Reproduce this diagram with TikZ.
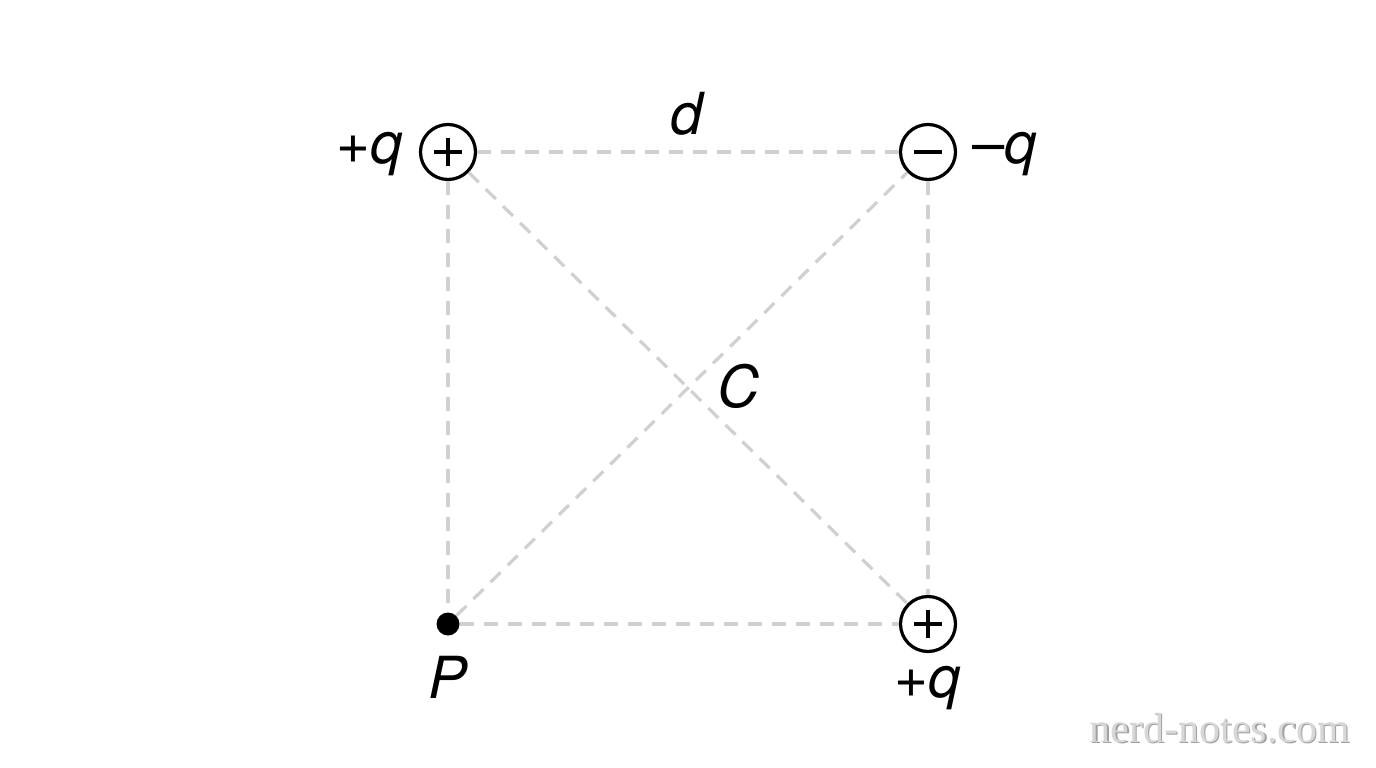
\documentclass[tikz,border=0pt]{standalone}
\usepackage{fontspec}
\setmainfont{TeX Gyre Heros}
\newfontfamily\wmfont{Liberation Serif}
\begin{document}
\begin{tikzpicture}[x=1pt,y=-1pt,
  charge/.style={circle,draw=black,line width=3.2pt,minimum size=55pt,inner sep=0pt},
  dot/.style={circle,fill=black,minimum size=23pt,inner sep=0pt},
  guide/.style={draw={rgb,255:red,208;green,208;blue,208},line width=3.2pt,dash pattern=on 14pt off 10pt},
  sign/.style={line width=3.4pt},
  lbl/.style={font=\fontsize{58}{62}\selectfont,inner sep=0pt}]
\useasboundingbox[fill=white] (0,0) rectangle (1376,768);
\node[charge] (A) at (448,152) {};
\node[charge] (B) at (928,152) {};
\node[charge] (D) at (928,624) {};
\node[dot] (P) at (448,624) {};
% plus/minus signs
\draw[sign] ([xshift=-14pt]A.center) -- ([xshift=14pt]A.center) ([yshift=-14pt]A.center) -- ([yshift=14pt]A.center);
\draw[sign] ([xshift=-14pt]D.center) -- ([xshift=14pt]D.center) ([yshift=-14pt]D.center) -- ([yshift=14pt]D.center);
\draw[sign] ([xshift=-14pt]B.center) -- ([xshift=14pt]B.center);
% dashed guides
\draw[guide] (A) -- (B);
\draw[guide] (B) -- (D);
\draw[guide] (P) -- (D);
\draw[guide] (A) -- (P);
\draw[guide] (A) -- (D);
\draw[guide] (P) -- (B);
% labels
\node[lbl] (lA) at (370,154) {+\textit{q}};
\node[lbl] (lB) at (1005,154) {\textendash\textit{q}};
\node[lbl] (lD) at (928,688) {+\textit{q}};
\node[lbl] (lP) at (448,677) {\textit{P}};
\node[lbl] (ld) at (688,114) {\textit{d}};
\node[lbl] (lC) at (738,386) {\textit{C}};
\node[font=\wmfont\fontsize{42}{44}\selectfont,text={rgb,255:red,160;green,160;blue,160},inner sep=0pt,anchor=base east] (wms) at (1351.5,743.5) {nerd-notes.com};
\node[font=\wmfont\fontsize{42}{44}\selectfont,text={rgb,255:red,215;green,215;blue,215},inner sep=0pt,anchor=base east] (wm) at (1350,742) {nerd-notes.com};
\end{tikzpicture}
\end{document}
